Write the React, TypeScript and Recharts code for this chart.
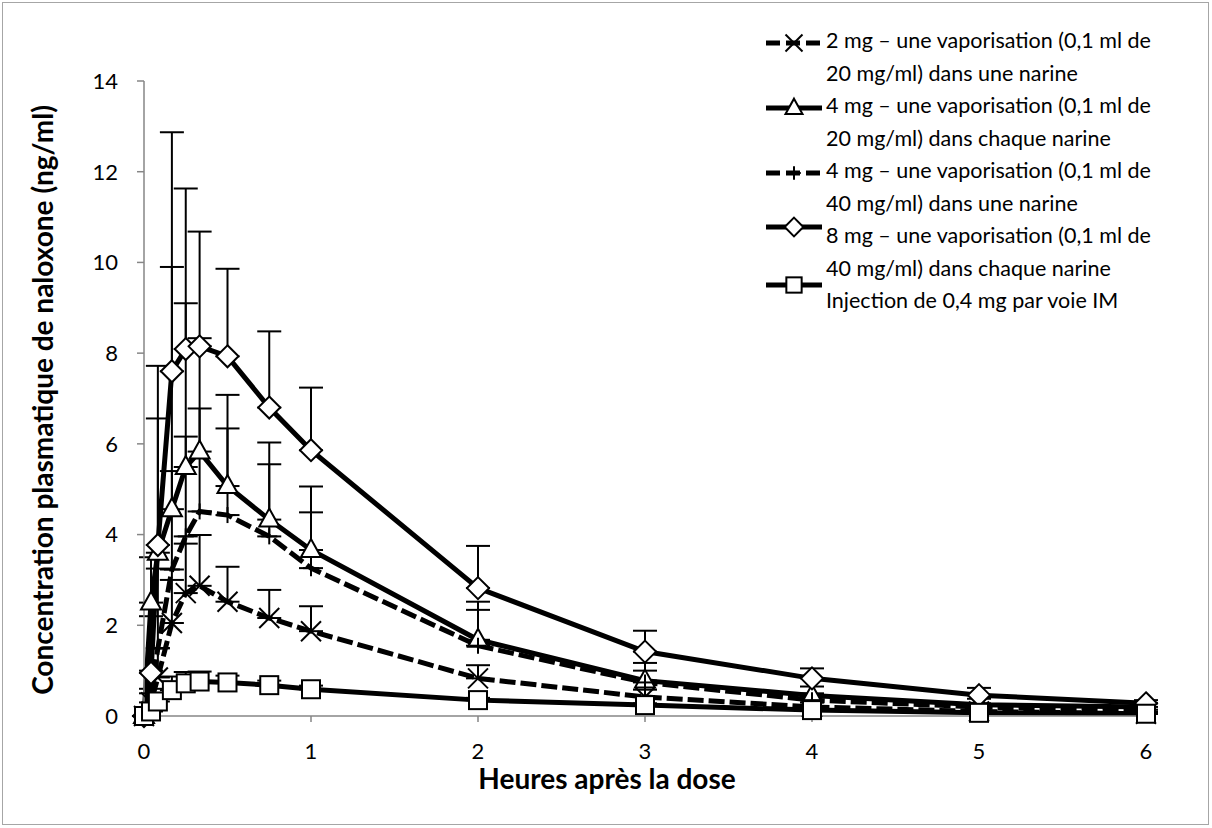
import React from "react";
import { LineChart, Line, XAxis, YAxis, ErrorBar } from "recharts";

// sampling times (h)
const HOURS = [0, 0.042, 0.083, 0.167, 0.25, 0.333, 0.5, 0.75, 1, 2, 3, 4, 5, 6];

// mean plasma naloxone (ng/ml) and SD
const MG2_ONE = [0, 0.3, 0.85, 2.05, 2.71, 2.87, 2.52, 2.16, 1.87, 0.83, 0.42, 0.2, 0.1, 0.05];
const MG2_ONE_SD = [0, 0.3, 0.65, 0.95, 1.09, 1.12, 0.77, 0.62, 0.55, 0.29, 0.16, 0.1, 0.05, 0.03];

const MG4_EACH = [0, 2.5, 3.6, 4.56, 5.49, 5.83, 5.07, 4.33, 3.66, 1.68, 0.78, 0.45, 0.25, 0.2];
const MG4_EACH_SD = [0, 1.0, 2.96, 5.34, 3.61, 2.5, 2.01, 1.7, 1.4, 0.84, 0.39, 0.2, 0.13, 0.08];

const MG4_ONE = [0, 0.5, 1.49, 3.23, 3.96, 4.51, 4.43, 3.96, 3.26, 1.55, 0.74, 0.35, 0.2, 0.1];
const MG4_ONE_SD = [0, 0.5, 1.76, 2.17, 2.2, 2.27, 1.91, 1.59, 1.23, 0.79, 0.26, 0.15, 0.08, 0.04];

const MG8_EACH = [0, 0.95, 3.77, 7.6, 8.09, 8.15, 7.93, 6.8, 5.86, 2.82, 1.42, 0.83, 0.46, 0.28];
const MG8_EACH_SD = [0, 1.25, 3.95, 5.27, 3.54, 2.53, 1.93, 1.68, 1.38, 0.93, 0.46, 0.22, 0.16, 0.07];

const IM_04 = [0, 0.1, 0.32, 0.57, 0.72, 0.76, 0.74, 0.68, 0.59, 0.35, 0.24, 0.13, 0.07, 0.05];
const IM_04_SD = [0, 0.05, 0.15, 0.3, 0.25, 0.22, 0.15, 0.1, 0.08, 0.05, 0.04, 0.03, 0.02, 0.01];

const X_TICKS = [0, 1, 2, 3, 4, 5, 6];
const Y_TICKS = [0, 2, 4, 6, 8, 10, 12, 14];

const SERIES = [
  { key: "mg2", marker: "x", dashed: true, values: MG2_ONE, sd: MG2_ONE_SD,
    label: ["2 mg – une vaporisation (0,1 ml de", "20 mg/ml) dans une narine"] },
  { key: "mg4e", marker: "triangle", dashed: false, values: MG4_EACH, sd: MG4_EACH_SD,
    label: ["4 mg – une vaporisation (0,1 ml de", "20 mg/ml) dans chaque narine"] },
  { key: "mg4o", marker: "plus", dashed: true, values: MG4_ONE, sd: MG4_ONE_SD,
    label: ["4 mg – une vaporisation (0,1 ml de", "40 mg/ml) dans une narine"] },
  { key: "mg8", marker: "diamond", dashed: false, values: MG8_EACH, sd: MG8_EACH_SD,
    label: ["8 mg – une vaporisation (0,1 ml de", "40 mg/ml) dans chaque narine"] },
  { key: "im", marker: "square", dashed: false, values: IM_04, sd: IM_04_SD,
    label: ["Injection de 0,4 mg par voie IM"] },
];

const rows = HOURS.map((t, i) => {
  const row: any = { t };
  SERIES.forEach((s) => {
    row[s.key] = s.values[i];
    row[s.key + "Sd"] = [0, s.sd[i]];
  });
  return row;
});

const FONT = "Lato, 'Open Sans', sans-serif";
const AXIS = "#868686";

function Marker({ kind, cx, cy, k = 1 }: { kind: string; cx: number; cy: number; k?: number }) {
  if (cx == null || cy == null) return null;
  switch (kind) {
    case "x":
      return (
        <g stroke="#000" strokeWidth={2}>
          <line x1={cx - 10 * k} y1={cy - 10 * k} x2={cx + 10 * k} y2={cy + 10 * k} />
          <line x1={cx - 10 * k} y1={cy + 10 * k} x2={cx + 10 * k} y2={cy - 10 * k} />
        </g>
      );
    case "triangle":
      return (
        <polygon
          points={`${cx},${cy - 11 * k} ${cx + 10 * k},${cy + 7 * k} ${cx - 10 * k},${cy + 7 * k}`}
          fill="#fff"
          stroke="#000"
          strokeWidth={2}
        />
      );
    case "plus":
      return (
        <g stroke="#000" strokeWidth={2}>
          <line x1={cx - 8 * k} y1={cy} x2={cx + 8 * k} y2={cy} />
          <line x1={cx} y1={cy - 8 * k} x2={cx} y2={cy + 8 * k} />
        </g>
      );
    case "diamond":
      return (
        <polygon
          points={`${cx},${cy - 11 * k} ${cx + 11 * k},${cy} ${cx},${cy + 11 * k} ${cx - 11 * k},${cy}`}
          fill="#fff"
          stroke="#000"
          strokeWidth={2}
        />
      );
    default:
      return (
        <rect x={cx - 9 * k} y={cy - 9 * k} width={18 * k} height={18 * k} fill="#fff" stroke="#000" strokeWidth={2} />
      );
  }
}

const dotFor = (kind: string) => (p: any) => (
  <Marker key={`${kind}-${p.index}`} kind={kind} cx={p.cx} cy={p.cy} />
);

function LegendSymbol({ kind, dashed }: { kind: string; dashed: boolean }) {
  return (
    <svg width={60} height={26} style={{ display: "block" }}>
      <line
        x1={2}
        y1={13}
        x2={58}
        y2={13}
        stroke="#000"
        strokeWidth={5}
        strokeDasharray={dashed ? "14 6" : undefined}
      />
      <Marker kind={kind} cx={30} cy={13} k={0.85} />
    </svg>
  );
}

const LEGEND_SYMBOL_Y = [43, 108, 173, 227, 285];

function ChartLegend() {
  let line = 0;
  return (
    <div style={{ position: "absolute", left: 0, top: 0 }}>
      {SERIES.map((s, i) => {
        const first = line;
        line += s.label.length;
        return (
          <React.Fragment key={s.key}>
            <div style={{ position: "absolute", left: 764, top: LEGEND_SYMBOL_Y[i] - 13 }}>
              <LegendSymbol kind={s.marker} dashed={s.dashed} />
            </div>
            {s.label.map((txt, j) => (
              <div
                key={j}
                style={{
                  position: "absolute",
                  left: 826,
                  top: 24 + (first + j) * 32.5,
                  height: 32,
                  lineHeight: "32px",
                  fontSize: 21.5,
                  whiteSpace: "nowrap",
                  color: "#000",
                }}
              >
                {txt}
              </div>
            ))}
          </React.Fragment>
        );
      })}
    </div>
  );
}

export default function App() {
  return (
    <div
      style={{
        position: "absolute",
        left: 0,
        top: 0,
        width: 1212,
        height: 828,
        background: "#fff",
        fontFamily: FONT,
      }}
    >
      <div
        style={{
          position: "absolute",
          left: 2,
          top: 2,
          width: 1207,
          height: 823,
          border: "1.5px solid #a6a6a6",
          boxSizing: "border-box",
        }}
      />
      <LineChart
        width={1212}
        height={828}
        data={rows}
        margin={{ top: 81, right: 66, left: 84, bottom: 72 }}
      >
        <XAxis
          type="number"
          dataKey="t"
          domain={[0, 6]}
          ticks={X_TICKS}
          height={40}
          stroke={AXIS}
          strokeWidth={1.5}
          tickSize={6}
          tickMargin={21}
          tick={{ fill: "#000", fontSize: 22 }}
        />
        <YAxis
          type="number"
          domain={[0, 14]}
          ticks={Y_TICKS}
          width={60}
          stroke={AXIS}
          strokeWidth={1.5}
          tickSize={7}
          tickMargin={19}
          tick={{ fill: "#000", fontSize: 22 }}
        />
        {SERIES.map((s) => (
          <Line
            key={s.key}
            dataKey={s.key}
            type="linear"
            stroke="#000"
            strokeWidth={5}
            strokeDasharray={s.dashed ? "16 5" : undefined}
            dot={dotFor(s.marker)}
            activeDot={false}
            isAnimationActive={false}
          >
            <ErrorBar
              dataKey={s.key + "Sd"}
              direction="y"
              width={12}
              stroke="#000"
              strokeWidth={2}
              isAnimationActive={false}
            />
          </Line>
        ))}
      </LineChart>
      <div
        style={{
          position: "absolute",
          left: 42,
          top: 400,
          transform: "translate(-50%, -50%) rotate(-90deg)",
          whiteSpace: "nowrap",
          fontWeight: 700,
          fontSize: 28,
          lineHeight: "30px",
          color: "#000",
        }}
      >
        Concentration plasmatique de naloxone (ng/ml)
      </div>
      <div
        style={{
          position: "absolute",
          left: 607,
          top: 778,
          transform: "translate(-50%, -50%)",
          whiteSpace: "nowrap",
          fontWeight: 700,
          fontSize: 28,
          lineHeight: "24px",
          color: "#000",
        }}
      >
        Heures après la dose
      </div>
      <ChartLegend />
    </div>
  );
}
